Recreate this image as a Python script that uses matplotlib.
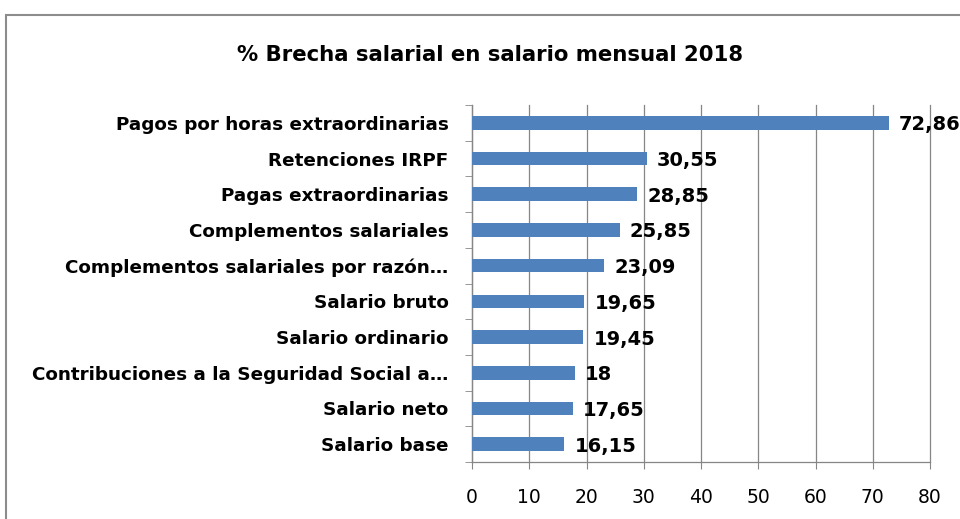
import numpy as np
import matplotlib.pyplot as plt
from matplotlib.patches import Rectangle

title = "% Brecha salarial en salario mensual 2018"
categories = ["Salario base", "Salario neto",
              "Contribuciones a la Seguridad Social a\u2026",
              "Salario ordinario", "Salario bruto",
              "Complementos salariales por raz\u00f3n\u2026",
              "Complementos salariales", "Pagas extraordinarias",
              "Retenciones IRPF", "Pagos por horas extraordinarias"]
values = [16.15, 17.65, 18, 19.45, 19.65, 23.09, 25.85, 28.85, 30.55, 72.86]
xticks = [0, 10, 20, 30, 40, 50, 60, 70, 80]

bar_color = "#4F81BD"
grid_color = "#868686"

fig = plt.figure(figsize=(9.6, 5.19), dpi=100)
ax = fig.add_axes([472 / 960, 1 - 462 / 519, 458 / 960, 357 / 519])

# chart area border (runs off the right/bottom of the crop)
fig.patches.append(Rectangle((6 / 960, -0.1), 1.2, 1.1 - 15 / 519,
                             transform=fig.transFigure, fill=False,
                             edgecolor="#8c8c8c", linewidth=1.5,
                             clip_on=False))

y = np.arange(len(categories))
ax.barh(y, values, height=0.38, color=bar_color, zorder=3)

for yi, v in zip(y, values):
    txt = ("%.2f" % v).rstrip("0").rstrip(".").replace(".", ",")
    ax.annotate(txt, (v, yi), xytext=(10, -2), textcoords="offset pixels",
                ha="left", va="center", fontsize=14, fontweight="bold",
                annotation_clip=False)

ax.set_xlim(0, 80)
ax.set_ylim(-0.5, len(categories) - 0.5)
ax.set_xticks(xticks)
ax.set_xticklabels([str(t) for t in xticks], fontsize=13.5)
ax.set_yticks(y)
ax.set_yticklabels(categories, fontsize=13.2, fontweight="bold")
ax.set_yticks(np.arange(len(categories) + 1) - 0.5, minor=True)

ax.tick_params(axis="y", which="major", length=0, pad=17)
ax.tick_params(axis="y", which="minor", length=5, color=grid_color)
ax.tick_params(axis="x", length=5, color=grid_color, pad=14)

ax.grid(axis="x", color=grid_color, linewidth=0.9, zorder=0)
for gl in ax.get_xgridlines():
    gl.set_clip_on(False)
ax.set_axisbelow(True)
for s in ["top", "right"]:
    ax.spines[s].set_visible(False)
for s in ["left", "bottom"]:
    ax.spines[s].set_color(grid_color)
    ax.spines[s].set_linewidth(0.9)

fig.text(490 / 960, 1 - 55 / 519, title, ha="center", va="center",
         fontsize=15.3, fontweight="bold")

fig.savefig("out.png", dpi=100)
